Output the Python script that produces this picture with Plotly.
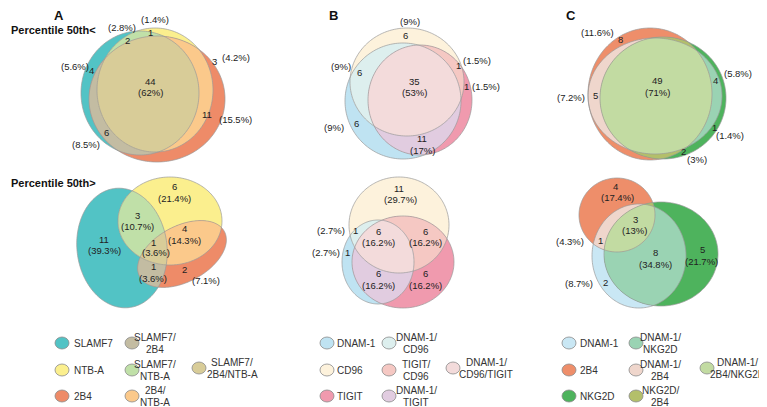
import numpy as np
import plotly.graph_objects as go

# ---------------- data ----------------
A_SETS = ["SLAMF7", "NTB-A", "2B4"]
A_REGIONS = ["SLAMF7", "NTB-A", "2B4", "SLAMF7/2B4", "SLAMF7/NTB-A", "2B4/NTB-A", "SLAMF7/2B4/NTB-A"]
A_TOP_COUNTS = [4, 1, 3, 6, 2, 11, 44]
A_TOP_PCTS = ["5.6", "1.4", "4.2", "8.5", "2.8", "15.5", "62"]
A_BOT_COUNTS = [11, 6, 2, 1, 3, 4, 1]
A_BOT_PCTS = ["39.3", "21.4", "7.1", "3.6", "10.7", "14.3", "3.6"]

B_SETS = ["DNAM-1", "CD96", "TIGIT"]
B_REGIONS = ["DNAM-1", "CD96", "TIGIT", "DNAM-1/CD96", "TIGIT/CD96", "DNAM-1/TIGIT", "DNAM-1/CD96/TIGIT"]
B_TOP_COUNTS = [6, 6, 1, 6, 1, 11, 35]
B_TOP_PCTS = ["9", "9", "1.5", "9", "1.5", "17", "53"]
B_BOT_COUNTS = [1, 11, 6, 1, 6, 6, 6]
B_BOT_PCTS = ["2.7", "29.7", "16.2", "2.7", "16.2", "16.2", "16.2"]

C_SETS = ["DNAM-1", "2B4", "NKG2D"]
C_REGIONS = ["DNAM-1", "2B4", "NKG2D", "DNAM-1/NKG2D", "DNAM-1/2B4", "NKG2D/2B4", "DNAM-1/2B4/NKG2D"]
C_TOP_COUNTS = [None, 8, 1, 4, 5, 2, 49]
C_TOP_PCTS = [None, "11.6", "1.4", "5.8", "7.2", "3", "71"]
C_BOT_COUNTS = [2, 4, 5, 8, 1, None, 3]
C_BOT_PCTS = ["8.7", "17.4", "21.7", "34.8", "4.3", None, "13"]

ROW_TITLES = ["Percentile 50th<", "Percentile 50th>"]
PANEL_LETTERS = ["A", "B", "C"]

# ---------------- styles / layout ----------------
A_COLORS = ["#52C3C5", "#FBEF8E", "#EE8B68", "#C3BCA2", "#C0E0A8", "#FBC98B", "#D8CC98"]
B_COLORS = ["#BFE3F2", "#FDF2DC", "#F09AAE", "#DDEFEE", "#F5C8C3", "#E1CCE0", "#F3DBDB"]
C_COLORS = ["#C9E7F4", "#EE8E6A", "#4EB35D", "#9AD3B3", "#EFD6CC", "#B3BF6A", "#C2DBA2"]

# pair index -> which two base sets
A_PAIRS = [(0, 2), (0, 1), (2, 1)]
B_PAIRS = [(0, 1), (2, 1), (0, 2)]
C_PAIRS = [(0, 2), (0, 1), (2, 1)]

# ellipses (cx, cy, rx, ry, rot_deg) for each base set, pixel space of the window
A_TOP_GEOM = [(140, 93, 59, 62, 0), (155, 90, 58, 62, 0), (157, 99, 68, 63, 0)]
A_BOT_GEOM = [(122, 248, 45, 60, -7), (170, 221, 52, 44, 0), (182, 254, 48, 28, -28)]
B_TOP_GEOM = [(403, 101, 58, 58, 0), (407, 82, 57, 54, 0), (420, 100, 52, 55, 0)]
B_BOT_GEOM = [(378, 262, 36, 42, 0), (399, 225, 50, 48, 0), (403, 262, 51, 46, 0)]
C_TOP_GEOM = [(655, 96, 67, 58, 0), (650, 94, 62, 66, 0), (663, 98, 63, 61, 0)]
C_BOT_GEOM = [(639, 256, 47, 52, 0), (617, 215, 38, 37, 0), (661, 254, 57, 52, 0)]

# label positions: (count_x, count_y, pct_x, pct_y) per region
A_TOP_POS = [(91, 70, 75, 66), (150, 32, 155, 19), (214, 61, 236, 57), (106, 132, 86, 144),
             (127, 40, 122, 27), (207, 114, 235, 119), (150, 81, 150, 92)]
A_BOT_POS = [(104, 239, 104, 250), (174, 186, 174, 198), (184, 269, 206, 280), (153, 266, 153, 278),
             (137, 215, 137, 226), (184, 228, 184, 240), (153, 242, 156, 252)]
B_TOP_POS = [(356, 123, 334, 127), (405, 35, 410, 21), (466, 86, 486, 86), (359, 72, 341, 66),
             (458, 65, 477, 60), (422, 138, 422, 150), (414, 81, 414, 92)]
B_BOT_POS = [(347, 252, 326, 252), (399, 188, 400, 199), (425, 273, 425, 285), (355, 230, 331, 230),
             (425, 231, 425, 242), (378, 273, 378, 285), (378, 231, 378, 242)]
C_TOP_POS = [None, (620, 39, 597, 32), (714, 127, 730, 135), (715, 80, 738, 73),
             (595, 95, 571, 97), (683, 151, 697, 159), (657, 80, 657, 92)]
C_BOT_POS = [(605, 282, 579, 283), (615, 186, 617, 197), (702, 249, 701, 261), (655, 252, 655, 264),
             (600, 240, 570, 241), None, (635, 219, 634, 230)]

# legend layout: col1 marker x, col1 text x, col2 marker x, col2 text cx, col3 marker x, col3 text cx
A_LEG = (62, 72, 132, 155, 199, 232)
B_LEG = (327, 335, 389, 416, 453, 486)
C_LEG = (569, 578, 636, 660, 707, 737)
LEG_ROWS = (343, 370, 396)

FONT = "Liberation Sans, Arial, sans-serif"
OUTLINE = "#9a9a9a"
W, H = 767, 407
PAGE_OFFSET = 8  # default body margin of the html page


def ellipse_pts(cx, cy, rx, ry, rot=0, n=200):
    t = np.linspace(0, 2 * np.pi, n, endpoint=False)
    x = rx * np.cos(t)
    y = ry * np.sin(t)
    a = np.deg2rad(rot)
    xr = x * np.cos(a) - y * np.sin(a) + cx
    yr = x * np.sin(a) + y * np.cos(a) + cy
    return list(zip(xr.tolist(), yr.tolist()))


def clip_poly(subject, clipper):
    def inside(p, a, b):
        return (b[0] - a[0]) * (p[1] - a[1]) - (b[1] - a[1]) * (p[0] - a[0]) >= 0

    def inter(p1, p2, a, b):
        x1, y1 = p1; x2, y2 = p2; x3, y3 = a; x4, y4 = b
        den = (x1 - x2) * (y3 - y4) - (y1 - y2) * (x3 - x4)
        if abs(den) < 1e-12:
            return p2
        t = ((x1 - x3) * (y3 - y4) - (y1 - y3) * (x3 - x4)) / den
        return (x1 + t * (x2 - x1), y1 + t * (y2 - y1))

    out = subject
    n = len(clipper)
    for i in range(n):
        a = clipper[i]; b = clipper[(i + 1) % n]
        inp = out; out = []
        if not inp:
            break
        s = inp[-1]
        for e in inp:
            if inside(e, a, b):
                if not inside(s, a, b):
                    out.append(inter(s, e, a, b))
                out.append(e)
            elif inside(s, a, b):
                out.append(inter(s, e, a, b))
            s = e
    return out


def path_of(pts):
    if len(pts) < 3:
        return None
    return "M " + " L ".join(f"{x:.2f},{y:.2f}" for x, y in pts) + " Z"


shapes = []
annotations = []


def add_text(x, y, text, size=9.5, color="#222222", bold=False, xanchor="center"):
    annotations.append(dict(x=x, y=y, xref="x", yref="y", text=f"<b>{text}</b>" if bold else text,
                            showarrow=False, xanchor=xanchor, yanchor="middle",
                            font=dict(family=FONT, size=size, color=color)))


def add_venn(geom, colors, pairs, counts, pcts, pos):
    polys = [ellipse_pts(*g) for g in geom]
    for i in range(3):
        shapes.append(dict(type="path", path=path_of(polys[i]), xref="x", yref="y",
                           fillcolor=colors[i], line=dict(width=0), layer="above"))
    for k, (i, j) in enumerate(pairs):
        p = path_of(clip_poly(polys[i], polys[j]))
        if p:
            shapes.append(dict(type="path", path=p, xref="x", yref="y",
                               fillcolor=colors[3 + k], line=dict(width=0), layer="above"))
    tri = clip_poly(clip_poly(polys[0], polys[1]), polys[2])
    p = path_of(tri)
    if p:
        shapes.append(dict(type="path", path=p, xref="x", yref="y",
                           fillcolor=colors[6], line=dict(width=0), layer="above"))
    for i in range(3):
        shapes.append(dict(type="path", path=path_of(polys[i]), xref="x", yref="y",
                           fillcolor="rgba(0,0,0,0)", line=dict(width=0.7, color=OUTLINE), layer="above"))
    for c, pc, ps in zip(counts, pcts, pos):
        if c is None or ps is None:
            continue
        add_text(ps[0], ps[1], str(c))
        add_text(ps[2], ps[3], f"({pc}%)")


def add_legend(regions, colors, leg):
    m1, t1, m2, t2, m3, t3 = leg
    w, h = 14, 12

    def marker(x, y, col):
        shapes.append(dict(type="circle", xref="x", yref="y", x0=x - w / 2, x1=x + w / 2,
                           y0=y - h / 2, y1=y + h / 2, fillcolor=col,
                           line=dict(width=0.8, color="#8a8a8a"), layer="above"))

    def two_line(cx, y, label):
        head, tail = label.split("/", 1)
        add_text(cx, y - 6, head + "/", size=10, color="#333333")
        add_text(cx, y + 6, tail, size=10, color="#333333")

    for r in range(3):
        y = LEG_ROWS[r]
        marker(m1, y, colors[r])
        add_text(t1, y, regions[r], size=10, color="#333333", xanchor="left")
        marker(m2, y, colors[3 + r])
        two_line(t2, y, regions[3 + r])
    marker(m3, 368, colors[6])
    two_line(t3, 368, regions[6])


add_venn(A_TOP_GEOM, A_COLORS, A_PAIRS, A_TOP_COUNTS, A_TOP_PCTS, A_TOP_POS)
add_venn(A_BOT_GEOM, A_COLORS, A_PAIRS, A_BOT_COUNTS, A_BOT_PCTS, A_BOT_POS)
add_venn(B_TOP_GEOM, B_COLORS, B_PAIRS, B_TOP_COUNTS, B_TOP_PCTS, B_TOP_POS)
add_venn(B_BOT_GEOM, B_COLORS, B_PAIRS, B_BOT_COUNTS, B_BOT_PCTS, B_BOT_POS)
add_venn(C_TOP_GEOM, C_COLORS, C_PAIRS, C_TOP_COUNTS, C_TOP_PCTS, C_TOP_POS)
add_venn(C_BOT_GEOM, C_COLORS, C_PAIRS, C_BOT_COUNTS, C_BOT_PCTS, C_BOT_POS)

add_legend(A_REGIONS, A_COLORS, A_LEG)
add_legend(B_REGIONS, B_COLORS, B_LEG)
add_legend(C_REGIONS, C_COLORS, C_LEG)

# the page keeps an 8px body margin, so the topmost/leftmost texts sit just inside it
for letter, x in zip(PANEL_LETTERS, (59, 333, 571)):
    add_text(x, 15, letter, size=13, color="#111111", bold=True)
add_text(PAGE_OFFSET + 1, 30, ROW_TITLES[0], size=11, color="#111111", bold=True, xanchor="left")
add_text(PAGE_OFFSET + 1, 183, ROW_TITLES[1], size=11, color="#111111", bold=True, xanchor="left")

fig = go.Figure(go.Scatter(x=[], y=[]))
fig.update_layout(
    width=W, height=H, margin=dict(l=0, r=0, t=0, b=0),
    paper_bgcolor="white", plot_bgcolor="white", showlegend=False,
    xaxis=dict(range=[PAGE_OFFSET, W + PAGE_OFFSET], visible=False, fixedrange=True),
    yaxis=dict(range=[H + PAGE_OFFSET, PAGE_OFFSET], visible=False, fixedrange=True),
    shapes=shapes, annotations=annotations,
)
fig.write_html("out.html")
